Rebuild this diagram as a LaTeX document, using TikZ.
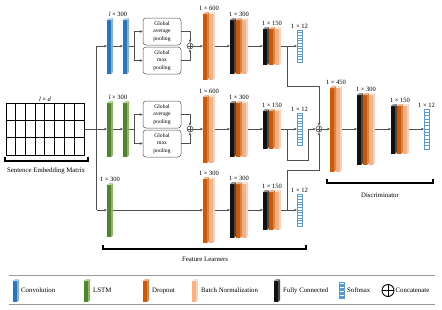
\documentclass[tikz,border=0pt]{standalone}
\usepackage{fontspec}
\setmainfont{Liberation Serif}
\usetikzlibrary{arrows.meta,calc}
\definecolor{cblue}{HTML}{2E75B6}
\definecolor{cblueS}{HTML}{7FB2E0}
\definecolor{cgreen}{HTML}{548235}
\definecolor{cgreenS}{HTML}{8DB85E}
\definecolor{corange}{HTML}{C55A11}
\definecolor{corangeS}{HTML}{E2803C}
\definecolor{clight}{HTML}{F4B183}
\definecolor{clightS}{HTML}{F9D2B5}
\definecolor{cblack}{HTML}{111111}
\definecolor{cblackS}{HTML}{4A4A4A}
\definecolor{csoft}{HTML}{5B9BD5}
\definecolor{cline}{HTML}{505050}

\newcommand\myslab[5]{%
  \fill[#5] (#1+4,#2-#3+2) -- (#1+6,#2-#3) -- (#1+6,#2+#3-2) -- (#1+4,#2+#3) -- cycle;
  \fill[#4] (#1,#2-#3+2) rectangle (#1+4,#2+#3);
  \fill[#5!60!white] (#1,#2-#3+2) -- (#1+2,#2-#3) -- (#1+6,#2-#3) -- (#1+4,#2-#3+2) -- cycle;
}
\newcommand\convslab[6]{%
  \myslab{#2}{#3}{#4}{#5}{#6}
  \node[grp,minimum width=6pt,minimum height={2*#4}] (#1) at (#2+3,#3) {};
}
\newcommand\dropgrp[4]{%
  \myslab{#2+6}{#3}{#4}{clight}{clightS}
  \myslab{#2}{#3}{#4}{corange}{corangeS}
  \node[grp,minimum width=12pt,minimum height={2*#4}] (#1) at (#2+6,#3) {};
}
\newcommand\fcgrp[4]{%
  \myslab{#2+12}{#3}{#4}{clight}{clightS}
  \myslab{#2+6}{#3}{#4}{corange}{corangeS}
  \myslab{#2}{#3}{#4}{cblack}{cblackS}
  \node[grp,minimum width=18pt,minimum height={2*#4}] (#1) at (#2+9,#3) {};
}
\newcommand\softbox[4]{%
  \node[soft,minimum height={2*#4}] (#1) at (#2+2.5,#3) {};
  \foreach \k in {1,...,11}{\draw[csoft,line width=0.4pt] (#2,{#3-#4+\k*#4/6}) -- (#2+5,{#3-#4+\k*#4/6});}
}

\tikzset{
  grp/.style={inner sep=0pt,outer sep=0pt},
  soft/.style={draw=csoft,line width=0.5pt,minimum width=5pt,inner sep=0pt,outer sep=0pt},
  lab/.style={font=\fontsize{6.5}{7}\selectfont,inner sep=0.5pt,above=0.6pt},
  txt/.style={font=\fontsize{6.8}{8}\selectfont,inner sep=0pt},
  pool/.style={draw=cline,line width=0.5pt,rounded corners=3pt,minimum width=38pt,minimum height=27pt,
    align=center,inner sep=0pt,font=\fontsize{5.6}{7.6}\selectfont},
  concat/.style={circle,draw=cline,line width=0.6pt,minimum size=6pt,inner sep=0pt,
    path picture={\draw[cline,line width=0.5pt] (path picture bounding box.north) -- (path picture bounding box.south)
      (path picture bounding box.west) -- (path picture bounding box.east);}},
  ln/.style={draw=cline,line width=0.6pt},
  arr/.style={ln,-{Stealth[length=3pt,width=2.6pt]}},
  bracket/.style={draw=black,line width=1.3pt},
  legline/.style={draw=gray!80,line width=0.8pt},
}

\begin{document}
\begin{tikzpicture}[x=1pt,y=-1pt]
\useasboundingbox (0,0) rectangle (442,309);

% ---------- embedding matrix ----------
\node[draw=black,line width=0.6pt,minimum width=78pt,minimum height=52pt,inner sep=0pt] (mat) at (45,129) {};
\foreach \i in {1,...,7}{\draw[black,line width=0.5pt] ($(mat.south west)+(\i*9.75,0)$) -- ($(mat.north west)+(\i*9.75,0)$);}
\foreach \j in {1,2}{\draw[black,line width=0.5pt] ($(mat.north west)+(0,\j*17.33)$) -- ($(mat.north east)+(0,\j*17.33)$);}
\node[lab] at (mat.north) {\textit{l} × \textit{d}};
\draw[bracket] (5,157) -- (5,161) -- (88,161) -- (88,157);
\node[txt] (semlab) at (46,171) {Sentence Embedding Matrix};

% ---------- row 1 (CNN) ----------
\convslab{a1}{107}{46}{28}{cblue}{cblueS}
\convslab{a2}{123}{46}{28}{cblue}{cblueS}
\node[lab] at ($(a1.north)!0.5!(a2.north)$) {\textit{l} × 300};
\node[pool] (avg1) at (162,31.5) {Global\\average\\pooling};
\node[pool] (max1) at (162,60.5) {Global\\max\\pooling};
\node[concat] (c1) at (190,46) {};
\dropgrp{d1}{203}{46}{34}
\node[lab] at (d1.north) {1 × 600};
\fcgrp{f1}{230}{46}{28}
\node[lab] at (f1.north) {1 × 300};
\fcgrp{h1}{263}{46}{19}
\node[lab] at (h1.north) {1 × 150};
\softbox{s1}{297}{46}{16}
\node[lab] at (s1.north) {1 × 12};

% ---------- row 2 (LSTM + pooling) ----------
\convslab{b1}{107}{129}{28}{cgreen}{cgreenS}
\convslab{b2}{123}{129}{28}{cgreen}{cgreenS}
\node[lab] at ($(b1.north)!0.5!(b2.north)$) {\textit{l} × 300};
\node[pool] (avg2) at (162,114.5) {Global\\average\\pooling};
\node[pool] (max2) at (162,143.5) {Global\\max\\pooling};
\node[concat] (c2) at (190,129) {};
\dropgrp{d2}{203}{129}{34}
\node[lab] at (d2.north) {1 × 600};
\fcgrp{f2}{230}{129}{28}
\node[lab] at (f2.north) {1 × 300};
\fcgrp{h2}{263}{129}{20}
\node[lab] at (h2.north) {1 × 150};
\softbox{s2}{297}{129}{16}
\node[lab] at (s2.north) {1 × 12};

% ---------- row 3 (LSTM) ----------
\convslab{l3}{107}{210}{27}{cgreen}{cgreenS}
\node[lab] at (l3.north) {1 × 300};
\dropgrp{d3}{203}{210}{33}
\node[lab] at (d3.north) {1 × 300};
\fcgrp{f3}{230}{210}{28}
\node[lab] at (f3.north) {1 × 300};
\fcgrp{h3}{263}{210}{20}
\node[lab] at (h3.north) {1 × 150};
\softbox{s3}{297}{210}{16}
\node[lab] at (s3.north) {1 × 12};

% ---------- discriminator ----------
\node[concat] (cc) at (319,129) {};
\dropgrp{e1}{330}{129}{43}
\node[lab] at (e1.north) {1 × 450};
\fcgrp{e2}{357}{129}{36}
\node[lab] at (e2.north) {1 × 300};
\fcgrp{e3}{391}{129}{25}
\node[lab] at (e3.north) {1 × 150};
\softbox{s4}{424}{129}{20}
\node[lab] at (s4.north) {1 × 12};

% ---------- connectors ----------
\coordinate (ta) at (96.5,46);
\coordinate (tb) at (96.5,210);
\draw[ln] (ta) -- (tb);
\draw[arr] (mat.east) -- (b1.west);
\draw[arr] (ta) -- (a1.west);
\draw[arr] (tb) -- (l3.west);
\draw[arr] (a1.east) -- (a2.west);
\draw[arr] (b1.east) -- (b2.west);
\coordinate (sp1) at (134,46);
\coordinate (sp2) at (134,129);
\draw[ln] (a2.east) -- (sp1);
\draw[arr] (sp1) |- (avg1.west);
\draw[arr] (sp1) |- (max1.west);
\draw[ln] (b2.east) -- (sp2);
\draw[arr] (sp2) |- (avg2.west);
\draw[arr] (sp2) |- (max2.west);
\draw[arr] (avg1.east) -| (c1.north);
\draw[arr] (max1.east) -| (c1.south);
\draw[arr] (avg2.east) -| (c2.north);
\draw[arr] (max2.east) -| (c2.south);
\draw[arr] (c1.east) -- (d1.west);
\draw[arr] (c2.east) -- (d2.west);
\draw[arr] (l3.east) -- (d3.west);
\draw[arr] (d1.east) -- (f1.west);
\draw[arr] (d2.east) -- (f2.west);
\draw[arr] (d3.east) -- (f3.west);
\draw[arr] (f1.east) -- (h1.west);
\draw[arr] (f2.east) -- (h2.west);
\draw[arr] (f3.east) -- (h3.west);
\draw[arr] (h1.east) -- (s1.west);
\draw[arr] (h2.east) -- (s2.west);
\draw[arr] (h3.east) -- (s3.west);
\coordinate (k1a) at (287,46);
\coordinate (k1b) at (287,86);
\coordinate (k2a) at (287,129);
\coordinate (k2b) at (287,160);
\coordinate (k2c) at (308,129);
\coordinate (k3a) at (287,210);
\coordinate (k3b) at (287,170);
\draw[arr] (k1a) -- (k1b) -| (cc.north);
\draw[arr] (k2a) -- (k2b) -| (k2c) -- (cc.west);
\draw[arr] (k3a) -- (k3b) -| (cc.south);
\draw[arr] (cc.east) -- (e1.west);
\draw[arr] (e1.east) -- (e2.west);
\draw[arr] (e2.east) -- (e3.west);
\draw[arr] (e3.east) -- (s4.west);

% ---------- brackets ----------
\draw[bracket] (103,245) -- (103,249) -- (306,249) -- (306,245);
\node[txt] (fl) at (205,259) {Feature Learners};
\draw[bracket] (327,179) -- (327,183) -- (433,183) -- (433,179);
\node[txt] (dl) at (380,195) {Discriminator};

% ---------- legend ----------
\draw[legline] (9,275) -- (435,275);
\draw[legline] (9,304) -- (435,304);
\myslab{13}{290.5}{11.5}{cblue}{cblueS}
\node[txt,anchor=west] at (21,290.5) {Convolution};
\myslab{84}{290.5}{11.5}{cgreen}{cgreenS}
\node[txt,anchor=west] at (93,290.5) {LSTM};
\myslab{143}{290.5}{11.5}{corange}{corangeS}
\node[txt,anchor=west] at (152,290.5) {Dropout};
\myslab{192}{290.5}{11.5}{clight}{clightS}
\node[txt,anchor=west] at (201,290.5) {Batch Normalization};
\myslab{274}{290.5}{11.5}{cblack}{cblackS}
\node[txt,anchor=west] at (283,290.5) {Fully Connected};
\softbox{sl}{339}{290.5}{8}
\node[txt,anchor=west] at (347,290.5) {Softmax};
\node[circle,draw=black,line width=0.9pt,minimum size=12pt,inner sep=0pt,
  path picture={\draw[black,line width=0.9pt] (path picture bounding box.north) -- (path picture bounding box.south)
      (path picture bounding box.west) -- (path picture bounding box.east);}] (cl) at (388,290.5) {};
\node[txt,anchor=west] at (395.5,290.5) {Concatenate};
\end{tikzpicture}
\end{document}
